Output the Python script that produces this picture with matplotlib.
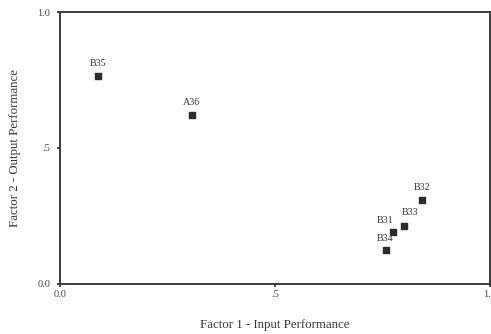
import matplotlib
matplotlib.use("Agg")
import matplotlib.pyplot as plt

# factor scores
labels = ["B35", "A36", "B32", "B33", "B31", "B34"]
factor1 = [0.088, 0.307, 0.842, 0.800, 0.774, 0.758]
factor2 = [0.765, 0.621, 0.309, 0.213, 0.191, 0.125]

tick_vals = [0.0, 0.5, 1.0]
tick_text = ["0.0", ".5", "1.0"]

# label nudges (points) so the crowded cluster stays readable
nudge = {"B33": (4, 9.5), "B31": (-5.5, 8.5), "B34": (-1, 8.5)}

plt.rcParams["font.family"] = ["Liberation Serif", "DejaVu Serif"]

fig = plt.figure(figsize=(4.91, 3.34), dpi=100)
ax = fig.add_axes([0.122, 0.150, 0.876, 0.814])

ax.scatter(factor1, factor2, marker="s", s=24, color="#2b2b2b", zorder=3)
for lab, x, y in zip(labels, factor1, factor2):
    ax.annotate(lab, (x, y), xytext=nudge.get(lab, (0, 9)),
                textcoords="offset points", ha="center", va="center",
                fontsize=7.2, color="#333333")

ax.set_xlim(0, 1)
ax.set_ylim(0, 1)
ax.set_xticks(tick_vals)
ax.set_xticklabels(tick_text)
ax.set_yticks(tick_vals)
ax.set_yticklabels(tick_text)
ax.tick_params(length=2, width=1.2, labelsize=7.5, labelcolor="#444444",
               color="#222222")
ax.tick_params(axis="y", pad=5)
ax.tick_params(axis="x", pad=2.5)

for spine in ax.spines.values():
    spine.set_linewidth(1.4)
    spine.set_color("#3a3a3a")

ax.set_xlabel("Factor 1 - Input Performance", fontsize=9.3, color="#333333",
              labelpad=14)
ax.set_ylabel("Factor 2 - Output Performance", fontsize=9.3, color="#333333",
              labelpad=12)

fig.savefig("out.png", dpi=100, facecolor="white")
